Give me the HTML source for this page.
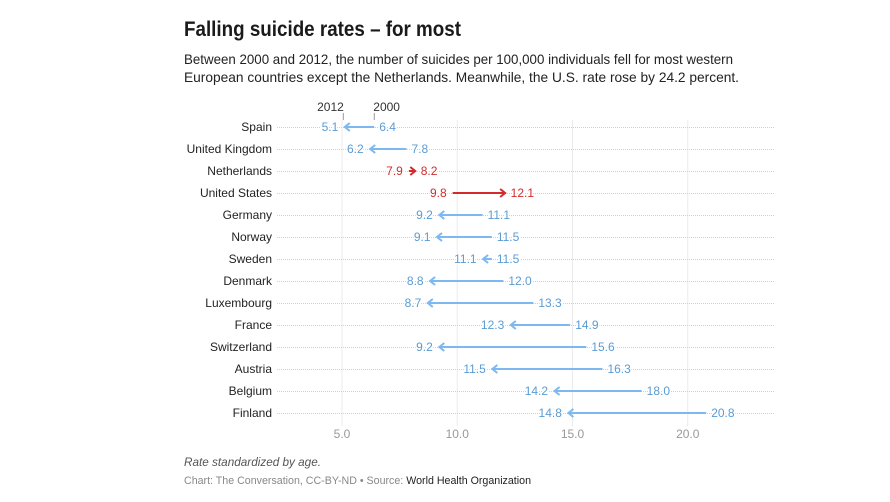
<!DOCTYPE html>
<html>
<head>
<meta charset="utf-8">
<style>
html,body{margin:0;padding:0;background:#fff;width:890px;height:502px;overflow:hidden;}
body{position:relative;font-family:"Liberation Sans",sans-serif;}
svg{position:absolute;left:0;top:0;}
text{font-family:"Liberation Sans",sans-serif;}
.halo{paint-order:stroke;stroke:#fff;stroke-width:3px;stroke-linejoin:round;}
</style>
</head>
<body>
<svg id="chart" width="890" height="502" viewBox="0 0 890 502" xmlns="http://www.w3.org/2000/svg">
  <text x="184" y="36" font-size="21.5" font-weight="bold" fill="#1a1a1a" textLength="277" lengthAdjust="spacingAndGlyphs">Falling suicide rates – for most</text>
  <text x="184" y="64" font-size="14" fill="#222" textLength="549" lengthAdjust="spacingAndGlyphs">Between 2000 and 2012, the number of suicides per 100,000 individuals fell for most western</text>
  <text x="184" y="82" font-size="14" fill="#222" textLength="555" lengthAdjust="spacingAndGlyphs">European countries except the Netherlands. Meanwhile, the U.S. rate rose by 24.2 percent.</text>
  <g id="grid"></g>
  <g id="rows"></g>
  <g id="xaxis"></g>
  <g id="key"></g>
  <text x="184" y="466" font-size="12" font-style="italic" fill="#555" textLength="137" lengthAdjust="spacingAndGlyphs">Rate standardized by age.</text>
  <text x="184" y="484" font-size="11" fill="#888" textLength="347" lengthAdjust="spacingAndGlyphs">Chart: The Conversation, CC-BY-ND • Source: <tspan fill="#222">World Health Organization</tspan></text>
</svg>
<script>
var countries = ["Spain","United Kingdom","Netherlands","United States","Germany","Norway","Sweden","Denmark","Luxembourg","France","Switzerland","Austria","Belgium","Finland"];
var rate2000 = [6.4,7.8,7.9,9.8,11.1,11.5,11.5,12.0,13.3,14.9,15.6,16.3,18.0,20.8];
var rate2012 = [5.1,6.2,8.2,12.1,9.2,9.1,11.1,8.8,8.7,12.3,9.2,11.5,14.2,14.8];
var xTicks = [5,10,15,20];

var NS = "http://www.w3.org/2000/svg";
function xScale(v){ return 342 + (v - 5) * 23.05; }
function yScale(i){ return 127 + i * 22; }
function mk(parent, tag, attrs, txt){
  var el = document.createElementNS(NS, tag);
  for (var k in attrs) el.setAttribute(k, attrs[k]);
  if (txt !== undefined) el.textContent = txt;
  parent.appendChild(el);
  return el;
}
var grid = document.getElementById("grid");
var rows = document.getElementById("rows");
var xaxis = document.getElementById("xaxis");
var key = document.getElementById("key");

xTicks.forEach(function(t){
  var l = mk(grid, "line", {x1:xScale(t), x2:xScale(t), y1:120, y2:426, stroke:"#ebebeb", "stroke-width":1});
  
  
  var lb = mk(xaxis, "text", {x:xScale(t), y:438, "text-anchor":"middle", "font-size":12, fill:"#999"}, t.toFixed(1));
  
  
});

countries.forEach(function(c, i){
  var y = yScale(i), a = rate2000[i], b = rate2012[i];
  var up = b > a;
  var lineCol = up ? "#d22b2b" : "#7db8f0";
  var txtCol = up ? "#d22b2b" : "#5a9bd4";
  var g = mk(rows, "g", {});
  
  

  var dot = mk(g, "line", {x1:277, x2:775, y1:y+0.5, y2:y+0.5, stroke:"#d0d0d0", "stroke-width":1, "stroke-dasharray":"1 1"});
  
  

  var name = mk(g, "text", {x:272, y:y+4, "text-anchor":"end", "font-size":12, fill:"#222"}, c);
  
  

  var x0 = xScale(a), x1 = xScale(b), dir = up ? 1 : -1;
  var tipX = x1 - dir * 0.5;
  var ln = mk(g, "line", {x1:x0, x2:tipX, y1:y, y2:y, stroke:lineCol, "stroke-width":2});
  
  

  var hd = mk(g, "path", {d:"M"+(tipX - dir*5)+" "+(y-4)+"L"+tipX+" "+y+"L"+(tipX - dir*5)+" "+(y+4), fill:"none", stroke:lineCol, "stroke-width":2});
  
  

  var lo = Math.min(a,b), hi = Math.max(a,b);
  var t1 = mk(g, "text", {x:xScale(lo)-6, y:y+4, "text-anchor":"end", "font-size":12, fill:txtCol, "class":"halo"}, lo.toFixed(1));
  
  
  var t2 = mk(g, "text", {x:xScale(hi)+5, y:y+4, "font-size":12, fill:txtCol, "class":"halo"}, hi.toFixed(1));
  
  
});

[[rate2012[0], "2012"], [rate2000[0], "2000"]].forEach(function(d, i){
  var px = xScale(d[0]) - (i === 0 ? 1 : 0);
  var tk = mk(key, "line", {x1:px, x2:px, y1:113, y2:120, stroke:"#999", "stroke-width":1});
  
  
  var tx = mk(key, "text", {x:i === 0 ? px + 0.5 : px - 1, y:111, "text-anchor":i === 0 ? "end" : "start", "font-size":12, fill:"#333"}, d[1]);
  
  
});
</script>
</body>
</html>
